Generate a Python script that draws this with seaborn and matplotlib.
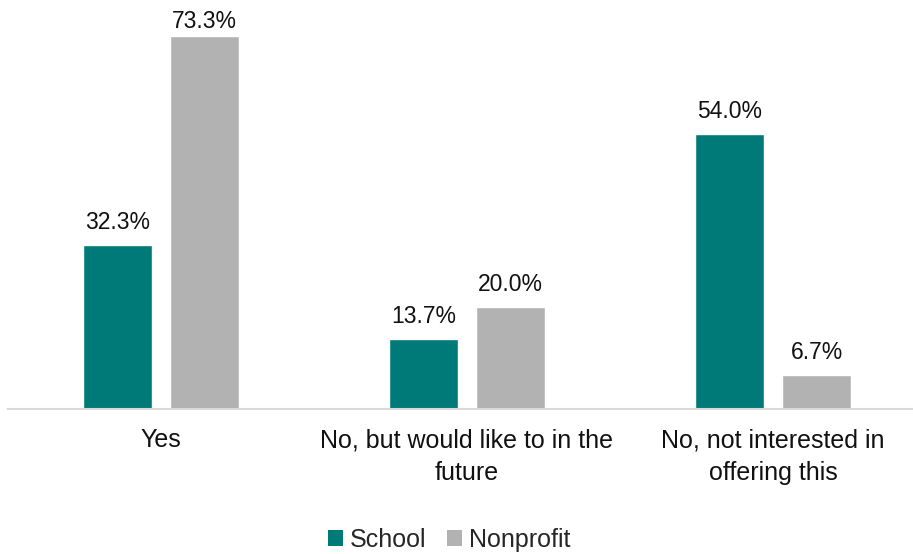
import matplotlib
matplotlib.use("Agg")
import matplotlib.pyplot as plt
import seaborn as sns
import pandas as pd
from matplotlib.patches import Patch

categories = ["Yes", "No, but would like to in the\nfuture", "No, not interested in\noffering this"]
school = [32.3, 13.7, 54.0]
nonprofit = [73.3, 20.0, 6.7]
series_names = ["School", "Nonprofit"]
colors = ["#007A78", "#B2B2B2"]

df = pd.DataFrame({
    "category": categories * 2,
    "value": school + nonprofit,
    "group": [series_names[0]] * 3 + [series_names[1]] * 3,
})

sns.set_style("white")
plt.rcParams["font.family"] = ["Liberation Sans", "DejaVu Sans"]

W, H = 913, 554
DPI = 100
fig = plt.figure(figsize=(W / DPI, H / DPI), dpi=DPI)
ax = fig.add_axes([8 / W, (H - 409) / H, 918 / W, 407 / H])

sns.barplot(data=df, x="category", y="value", hue="group", order=categories,
            hue_order=series_names, palette=colors, width=0.569, gap=0.218,
            ax=ax, legend=False, saturation=1)

ax.set_xlim(-0.5, 2.5)
ax.set_ylim(0, 80)

# value labels above bars; labels near the top are pulled down to stay in the plot area
PAD = 8.0
LABEL_CEIL = 77.7      # highest data value a label's baseline area may reach
LABEL_H_PX = 19.0
px_per_unit = ax.get_position().height * H / (ax.get_ylim()[1] - ax.get_ylim()[0])
for cont in ax.containers:
    anns = ax.bar_label(cont, labels=[f"{v:.1f}%" for v in cont.datavalues],
                        padding=PAD, fontsize=16.5, color="#111111")
    for ann, v in zip(anns, cont.datavalues):
        room_pt = ((LABEL_CEIL - v) * px_per_unit - LABEL_H_PX) * 72 / DPI
        ann.xyann = (0, max(0.0, min(PAD, room_pt)))

ax.set_xlabel("")
ax.set_ylabel("")
ax.set_yticks([])
ax.tick_params(axis="x", length=0, pad=14, labelsize=18, labelcolor="#111111")
for lbl in ax.get_xticklabels():
    lbl.set_linespacing(1.45)
for s in ["top", "right", "left"]:
    ax.spines[s].set_visible(False)
ax.spines["bottom"].set_color("#D9D9D9")
ax.spines["bottom"].set_linewidth(1.5)

handles = [Patch(facecolor=c, edgecolor="none") for c in colors]
fig.legend(handles, series_names, loc="center", bbox_to_anchor=(0.492, 0.025),
           ncol=2, frameon=False, fontsize=18, handlelength=0.6, handleheight=0.6,
           handletextpad=0.3, columnspacing=0.8)

fig.savefig("out.png", dpi=DPI)
